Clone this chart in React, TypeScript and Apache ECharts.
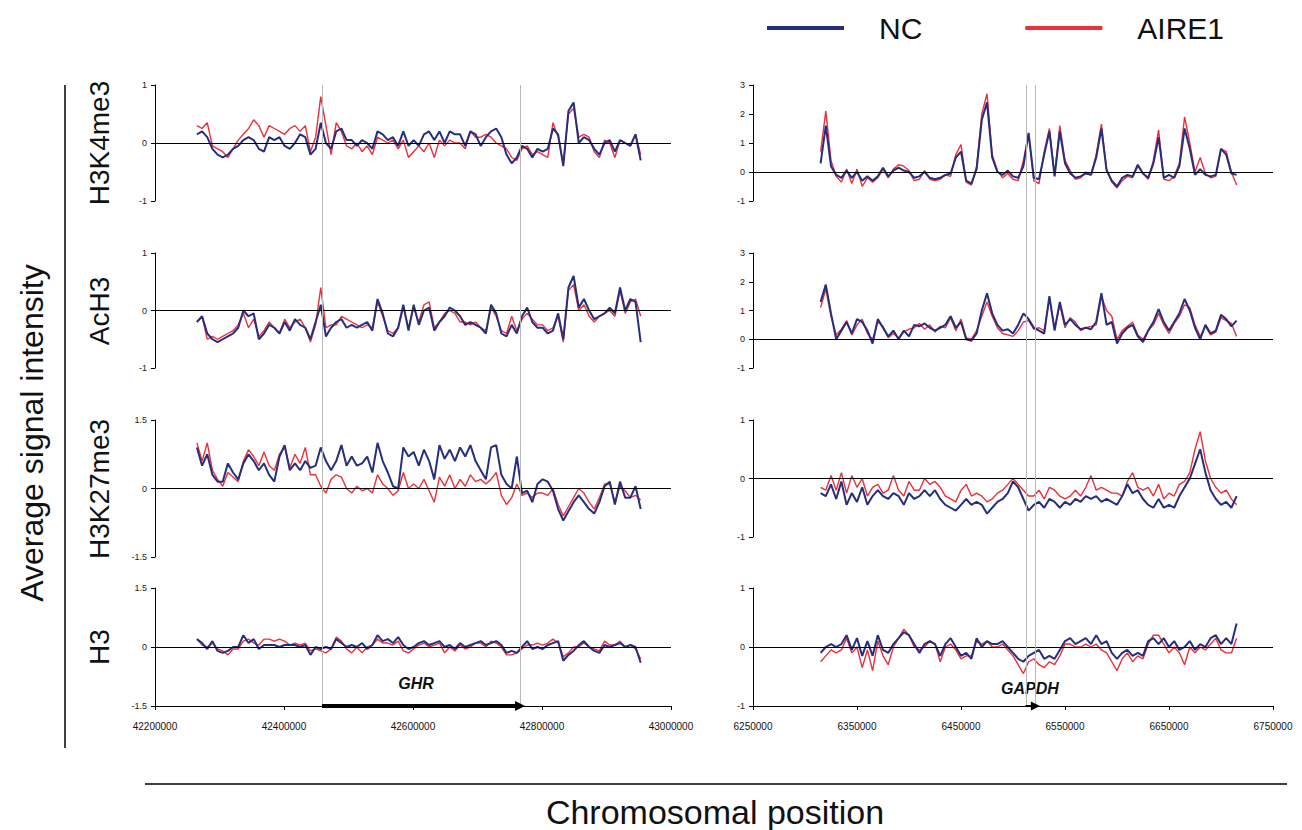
import React, { useEffect, useRef } from "react";
import * as echarts from "echarts";

// ---------- probe positions ----------
const GHR_POS_START = 42265000;
const GHR_POS_STEP = 8000;
const GHR_POS_COUNT = 87;
const GAPDH_POS_START = 6315000;
const GAPDH_POS_STEP = 5000;
const GAPDH_POS_COUNT = 81;

// ---------- axis ranges / ticks ----------
const GHR_X = { min: 42200000, max: 43000000, interval: 200000 };
const GAPDH_X = { min: 6250000, max: 6750000, interval: 100000 };
const ROW_NAMES = ["H3K4me3", "AcH3", "H3K27me3", "H3"];
const GHR_Y = [
  { min: -1, max: 1, interval: 1 },
  { min: -1, max: 1, interval: 1 },
  { min: -1.5, max: 1.5, interval: 1.5 },
  { min: -1.5, max: 1.5, interval: 1.5 },
];
const GAPDH_Y = [
  { min: -1, max: 3, interval: 1 },
  { min: -1, max: 3, interval: 1 },
  { min: -1, max: 1, interval: 1 },
  { min: -1, max: 1, interval: 1 },
];

// ---------- gene marks ----------
const GHR_BOUNDS = [42459000, 42766000];
const GAPDH_BOUNDS = [6512500, 6521000];
const GAPDH_ARROW = [6512000, 6521500];

// ---------- GHR locus values ----------
const GHR_H3K4ME3_NC = [0.15,0.2,0.1,-0.1,-0.2,-0.25,-0.2,-0.1,-0.05,0.05,0.1,0.05,-0.1,-0.15,0.1,0.05,0.1,-0.05,-0.1,0.0,0.15,0.1,-0.2,-0.1,0.35,0.0,-0.1,0.2,0.25,0.05,0.05,-0.05,0.05,0.0,-0.1,0.2,0.15,0.05,0.1,-0.05,0.2,-0.05,0.05,-0.05,0.15,0.2,0.05,0.2,0.0,0.2,0.15,0.15,-0.05,0.2,0.15,-0.05,0.1,0.2,0.25,0.1,-0.2,-0.35,-0.25,-0.05,-0.1,-0.25,-0.1,-0.15,-0.1,0.25,0.15,-0.4,0.55,0.7,0.0,0.1,0.05,-0.1,-0.2,0.0,0.05,-0.15,0.05,0.0,-0.05,0.15,-0.3];
const GHR_H3K4ME3_AIRE1 = [0.3,0.25,0.35,-0.05,-0.1,-0.15,-0.25,-0.1,0.05,0.15,0.25,0.4,0.3,0.1,0.3,0.25,0.2,0.15,0.25,0.3,0.2,0.3,-0.15,0.1,0.8,0.3,-0.2,0.35,0.2,-0.05,-0.1,0.0,-0.15,-0.05,-0.2,0.1,0.05,0.0,0.05,-0.1,0.05,-0.25,-0.15,-0.05,-0.15,0.0,-0.25,0.05,-0.05,0.05,0.0,0.0,-0.1,0.2,0.1,0.1,0.15,0.1,0.0,-0.05,-0.1,-0.25,-0.3,-0.1,-0.05,-0.2,-0.15,-0.2,-0.25,0.35,0.1,-0.35,0.5,0.6,0.1,0.15,0.1,-0.15,-0.25,0.05,0.0,-0.25,0.05,0.0,-0.05,0.15,-0.2];
const GHR_ACH3_NC = [-0.2,-0.1,-0.4,-0.5,-0.55,-0.5,-0.45,-0.4,-0.3,0.0,-0.1,-0.05,-0.5,-0.4,-0.25,-0.3,-0.4,-0.2,-0.35,-0.15,-0.25,-0.3,-0.5,-0.2,0.1,-0.45,-0.3,-0.2,-0.15,-0.3,-0.25,-0.3,-0.25,-0.2,-0.35,0.2,-0.05,-0.4,-0.45,-0.3,0.1,-0.35,0.1,-0.25,0.0,0.05,-0.35,-0.2,-0.1,0.05,0.0,-0.1,-0.25,-0.2,-0.25,-0.3,-0.4,0.1,-0.05,-0.4,-0.45,-0.25,-0.4,-0.1,0.05,-0.2,-0.3,-0.3,-0.4,-0.35,-0.05,-0.5,0.4,0.6,0.05,0.2,0.0,-0.15,-0.1,-0.05,0.05,-0.05,0.4,0.0,0.2,0.15,-0.55];
const GHR_ACH3_AIRE1 = [-0.2,-0.1,-0.5,-0.45,-0.5,-0.45,-0.4,-0.35,-0.25,-0.05,-0.3,-0.15,-0.45,-0.35,-0.2,-0.3,-0.4,-0.15,-0.3,-0.2,-0.15,-0.3,-0.55,-0.25,0.4,-0.3,-0.25,-0.25,-0.1,-0.15,-0.2,-0.25,-0.3,-0.25,-0.3,0.15,-0.1,-0.35,-0.4,-0.3,0.05,-0.3,0.05,-0.2,0.1,0.15,-0.3,-0.2,-0.05,0.0,-0.05,-0.2,-0.2,-0.25,-0.2,-0.3,-0.35,0.05,-0.1,-0.35,-0.4,-0.1,-0.35,-0.15,-0.05,-0.15,-0.25,-0.25,-0.35,-0.3,-0.1,-0.55,0.35,0.45,0.0,0.1,-0.1,-0.2,-0.1,-0.05,0.0,-0.1,0.35,-0.05,0.15,0.2,-0.1];
const GHR_H3K27ME3_NC = [0.9,0.5,0.75,0.3,0.15,0.15,0.55,0.35,0.2,0.55,0.75,0.6,0.4,0.55,0.3,0.15,0.7,0.95,0.4,0.55,0.4,0.6,0.45,0.5,0.9,0.6,0.4,0.6,0.95,0.5,0.7,0.5,0.55,0.7,0.35,1.0,0.6,0.35,0.05,0.0,0.9,0.7,0.8,0.5,0.85,0.6,0.2,0.95,0.65,0.85,0.6,0.9,0.7,0.95,0.6,0.4,0.2,0.9,0.95,0.3,0.1,0.0,0.7,-0.1,-0.05,-0.3,0.1,0.2,0.15,-0.05,-0.45,-0.7,-0.5,-0.3,-0.15,-0.3,-0.45,-0.55,-0.3,0.05,0.15,-0.35,0.15,-0.2,-0.2,0.05,-0.45];
const GHR_H3K27ME3_AIRE1 = [1.0,0.6,1.0,0.4,0.2,0.05,0.35,0.25,0.15,0.6,0.85,0.7,0.5,0.8,0.5,0.4,0.75,0.9,0.45,0.75,0.55,0.9,0.3,0.3,0.05,-0.1,0.2,0.3,0.25,0.0,-0.1,0.05,-0.05,0.0,-0.1,0.3,0.1,0.0,-0.15,-0.05,0.35,0.0,0.1,0.0,0.2,-0.05,-0.3,0.25,0.05,0.3,0.0,0.2,0.05,0.3,0.15,0.2,0.1,0.2,0.35,-0.15,-0.35,-0.2,0.1,-0.15,-0.1,-0.2,-0.1,-0.1,-0.15,0.0,-0.35,-0.6,-0.4,-0.2,0.0,-0.1,-0.3,-0.45,-0.2,0.1,0.1,-0.3,0.05,-0.05,-0.2,-0.15,-0.25];
const GHR_H3_NC = [0.2,0.1,-0.05,0.15,-0.1,-0.15,-0.1,0.0,0.0,0.3,0.1,0.2,-0.05,0.05,0.05,0.05,0.0,0.05,0.05,0.05,0.0,0.05,-0.2,0.0,-0.05,0.0,-0.05,0.2,0.1,0.0,0.05,0.0,0.1,-0.05,0.05,0.3,0.15,0.2,0.1,0.25,0.05,-0.05,0.0,0.1,0.15,0.05,0.1,0.15,0.0,0.05,-0.05,0.1,0.0,0.05,0.1,0.15,0.05,0.1,0.15,0.05,-0.15,-0.1,-0.15,0.0,0.15,-0.05,0.0,-0.05,0.05,0.1,0.15,-0.35,-0.2,-0.1,0.05,0.15,0.0,-0.1,-0.15,0.05,0.0,0.05,0.1,0.0,0.05,0.0,-0.4];
const GHR_H3_AIRE1 = [0.2,0.05,0.0,0.1,-0.05,-0.1,-0.2,-0.05,-0.05,0.15,0.2,0.1,0.05,0.2,0.2,0.15,0.2,0.15,0.05,0.1,0.05,0.1,-0.1,-0.05,-0.1,-0.15,-0.05,0.25,0.15,-0.05,-0.15,0.0,-0.15,0.0,0.05,0.2,0.1,0.1,0.05,0.15,-0.1,-0.15,-0.05,0.05,0.1,0.0,0.05,0.1,-0.15,0.0,-0.1,0.05,-0.05,0.0,0.1,0.1,0.0,0.15,0.1,0.0,-0.2,-0.2,-0.15,-0.05,0.05,0.05,0.1,0.05,0.1,0.2,0.1,-0.25,-0.15,0.0,0.0,0.1,0.0,-0.05,-0.1,0.15,0.05,0.05,0.15,0.0,0.05,-0.05,-0.3];

// ---------- GAPDH locus values ----------
const GAPDH_H3K4ME3_NC = [0.3,1.6,0.2,-0.1,-0.2,0.05,-0.2,0.0,-0.3,-0.15,-0.3,-0.15,0.15,-0.15,0.05,0.15,0.05,0.0,-0.2,-0.15,0.0,-0.2,-0.25,-0.2,-0.1,-0.05,0.5,0.7,-0.3,-0.4,0.1,1.8,2.4,0.5,0.0,-0.1,0.05,-0.15,-0.2,0.2,1.35,-0.2,-0.25,0.6,1.4,-0.15,1.4,0.3,-0.05,-0.2,-0.15,-0.05,-0.1,0.5,1.5,0.05,-0.3,-0.5,-0.2,-0.1,-0.15,0.25,-0.05,-0.2,0.3,1.2,-0.2,-0.1,-0.2,0.2,1.5,0.8,-0.1,0.1,-0.1,-0.15,-0.1,0.8,0.6,-0.05,-0.1];
const GAPDH_H3K4ME3_AIRE1 = [0.7,2.1,0.4,-0.15,-0.35,0.1,-0.4,0.1,-0.5,-0.2,-0.35,-0.2,0.1,-0.2,0.1,0.25,0.2,0.05,-0.3,-0.25,0.05,-0.25,-0.3,-0.25,-0.1,-0.15,0.6,0.95,-0.35,-0.45,0.2,2.0,2.7,0.6,0.05,-0.2,-0.05,-0.25,-0.3,0.4,1.3,-0.3,-0.4,0.7,1.5,-0.1,1.6,0.4,0.05,-0.25,-0.2,0.0,-0.1,0.6,1.65,0.1,-0.35,-0.55,-0.3,-0.15,-0.2,0.2,-0.05,-0.25,0.4,1.45,-0.25,-0.3,-0.15,0.3,1.9,1.0,0.0,0.5,-0.05,-0.2,-0.15,0.8,0.7,0.0,-0.45];
const GAPDH_ACH3_NC = [1.3,1.9,0.9,0.0,0.3,0.6,0.2,0.7,0.6,0.3,-0.15,0.7,0.4,0.1,0.3,0.0,0.3,0.1,0.5,0.45,0.55,0.4,0.3,0.4,0.5,0.8,0.4,0.6,0.0,-0.05,0.2,1.0,1.6,0.9,0.5,0.3,0.35,0.2,0.5,0.9,0.7,0.4,0.3,0.2,1.5,0.3,1.3,0.5,0.7,0.5,0.35,0.4,0.35,0.6,1.6,0.5,0.6,-0.15,0.2,0.4,0.5,0.1,-0.1,0.3,0.6,1.05,0.6,0.3,0.6,0.9,1.4,1.0,0.4,0.0,0.5,0.2,0.3,0.85,0.7,0.45,0.65];
const GAPDH_ACH3_AIRE1 = [1.1,1.75,0.8,0.15,0.35,0.65,0.15,0.5,0.7,0.2,0.0,0.6,0.45,0.05,0.2,0.05,0.25,0.35,0.4,0.55,0.35,0.5,0.25,0.45,0.4,0.75,0.3,0.7,0.05,0.0,0.3,0.8,1.3,0.8,0.4,0.2,0.15,0.1,0.3,0.6,0.65,0.35,0.4,0.3,1.4,0.4,1.2,0.4,0.75,0.6,0.3,0.4,0.45,0.5,1.5,1.0,0.8,0.0,0.3,0.45,0.6,0.15,0.0,0.3,0.5,0.9,0.5,0.2,0.55,0.8,1.2,1.1,0.5,0.1,0.45,0.15,0.25,0.75,0.65,0.55,0.1];
const GAPDH_H3K27ME3_NC = [-0.25,-0.3,-0.1,-0.35,-0.05,-0.45,-0.25,-0.4,-0.15,-0.45,-0.3,-0.2,-0.3,-0.35,-0.25,-0.3,-0.45,-0.25,-0.35,-0.3,-0.2,-0.3,-0.2,-0.35,-0.45,-0.5,-0.55,-0.45,-0.35,-0.45,-0.4,-0.45,-0.6,-0.5,-0.4,-0.35,-0.25,-0.05,-0.15,-0.35,-0.55,-0.45,-0.4,-0.5,-0.35,-0.4,-0.5,-0.4,-0.45,-0.35,-0.4,-0.3,-0.35,-0.3,-0.4,-0.35,-0.4,-0.45,-0.3,-0.1,-0.25,-0.2,-0.35,-0.45,-0.5,-0.35,-0.5,-0.45,-0.5,-0.3,-0.15,0.0,0.25,0.5,0.1,-0.2,-0.35,-0.45,-0.4,-0.5,-0.3];
const GAPDH_H3K27ME3_AIRE1 = [-0.15,-0.2,0.05,-0.2,0.1,-0.25,0.05,-0.15,0.0,-0.3,-0.15,-0.1,-0.25,-0.2,0.05,-0.2,-0.3,-0.05,-0.2,-0.2,0.0,-0.1,-0.05,-0.15,-0.3,-0.35,-0.4,-0.2,-0.1,-0.3,-0.25,-0.3,-0.4,-0.35,-0.25,-0.2,-0.1,0.0,-0.1,-0.2,-0.3,-0.3,-0.2,-0.35,-0.15,-0.2,-0.3,-0.35,-0.3,-0.2,-0.3,-0.15,0.05,-0.2,-0.15,-0.2,-0.25,-0.25,-0.3,-0.05,0.1,-0.15,-0.2,-0.15,-0.3,-0.1,-0.35,-0.25,-0.3,-0.1,-0.05,0.1,0.5,0.8,0.3,0.0,-0.15,-0.25,-0.2,-0.35,-0.45];
const GAPDH_H3_NC = [-0.1,0.0,0.05,0.0,0.05,0.2,-0.05,0.15,-0.15,0.1,-0.15,0.2,-0.05,-0.1,0.05,0.15,0.25,0.2,0.05,-0.1,0.05,0.1,0.05,-0.15,0.05,0.15,0.0,-0.15,-0.1,-0.2,0.15,0.0,0.1,0.05,0.05,0.1,0.0,-0.1,-0.2,-0.25,-0.15,-0.1,-0.05,-0.2,-0.15,-0.2,-0.05,0.1,0.15,0.05,0.1,0.15,0.05,0.2,0.05,0.1,-0.1,-0.2,-0.1,-0.05,-0.15,-0.1,-0.15,0.1,0.15,0.05,0.15,0.0,0.1,-0.05,0.0,0.1,-0.05,0.05,0.0,0.15,0.2,0.05,0.15,0.05,0.4];
const GAPDH_H3_AIRE1 = [-0.25,-0.15,-0.05,-0.1,-0.05,0.15,-0.1,0.0,-0.35,-0.05,-0.4,0.1,-0.15,-0.3,0.0,0.15,0.3,0.2,0.0,-0.05,0.0,0.1,0.05,-0.25,0.0,0.05,-0.05,-0.2,-0.15,-0.15,0.1,0.05,0.1,0.0,0.0,0.05,-0.05,-0.15,-0.3,-0.45,-0.25,-0.2,-0.3,-0.35,-0.25,-0.3,-0.15,0.05,0.05,0.0,0.0,0.05,0.0,0.05,-0.05,-0.1,-0.25,-0.4,-0.2,-0.1,-0.25,-0.15,-0.2,0.05,0.2,0.2,0.05,-0.1,0.0,-0.1,-0.3,0.0,-0.1,0.0,-0.05,0.05,0.15,-0.05,-0.1,-0.1,0.15];

const GHR_NC = [GHR_H3K4ME3_NC, GHR_ACH3_NC, GHR_H3K27ME3_NC, GHR_H3_NC];
const GHR_AIRE1 = [GHR_H3K4ME3_AIRE1, GHR_ACH3_AIRE1, GHR_H3K27ME3_AIRE1, GHR_H3_AIRE1];
const GAPDH_NC = [GAPDH_H3K4ME3_NC, GAPDH_ACH3_NC, GAPDH_H3K27ME3_NC, GAPDH_H3_NC];
const GAPDH_AIRE1 = [GAPDH_H3K4ME3_AIRE1, GAPDH_ACH3_AIRE1, GAPDH_H3K27ME3_AIRE1, GAPDH_H3_AIRE1];

// ---------- styling ----------
const FONT = "'Liberation Sans', Arial, Helvetica, sans-serif";
const NC_COLOR = "#262e7e";
const AIRE1_COLOR = "#ec2f38";
const GREY_LINE = "#b8b8b8";

const LEFT_COL = { left: 155, width: 516 };
const RIGHT_COL = { left: 753, width: 520 };
const LEFT_ROWS = [
  { top: 85, height: 116 },
  { top: 253, height: 115 },
  { top: 420, height: 137 },
  { top: 588, height: 118 },
];
const RIGHT_ROWS = [
  { top: 85, height: 116 },
  { top: 253, height: 115 },
  { top: 420, height: 117 },
  { top: 588, height: 118 },
];
const ROW_ZERO_Y = [143, 311, 489, 647];

function buildOption() {
  const ghrPos = Array.from({ length: GHR_POS_COUNT }, (_, i) => GHR_POS_START + i * GHR_POS_STEP);
  const gapdhPos = Array.from({ length: GAPDH_POS_COUNT }, (_, i) => GAPDH_POS_START + i * GAPDH_POS_STEP);

  const grid: any[] = [];
  const xAxis: any[] = [];
  const yAxis: any[] = [];
  const series: any[] = [];

  const addPanel = (col: any, row: any, xr: any, yr: any, isBottom: boolean, pos: number[], nc: number[], aire: number[]) => {
    const idx = grid.length;
    grid.push({ left: col.left, width: col.width, top: row.top, height: row.height, containLabel: false });
    xAxis.push({
      type: "value",
      gridIndex: idx,
      min: xr.min,
      max: xr.max,
      interval: xr.interval,
      show: isBottom,
      axisLine: { show: isBottom, onZero: false, lineStyle: { color: "#000", width: 1 } },
      axisTick: { show: isBottom, inside: false, length: 4, lineStyle: { color: "#000" } },
      axisLabel: {
        show: isBottom,
        fontSize: 10,
        color: "#111",
        fontFamily: FONT,
        margin: 15,
        formatter: (v: number) => String(v),
      },
      splitLine: { show: false },
    });
    yAxis.push({
      type: "value",
      gridIndex: idx,
      min: yr.min,
      max: yr.max,
      interval: yr.interval,
      axisLine: { show: true, onZero: false, lineStyle: { color: "#000", width: 1 } },
      axisTick: { show: true, inside: false, length: 4, lineStyle: { color: "#000" } },
      axisLabel: { fontSize: 9, color: "#222", fontFamily: FONT, margin: 8 },
      splitLine: { show: false },
    });
    series.push({
      name: "AIRE1",
      type: "line",
      xAxisIndex: idx,
      yAxisIndex: idx,
      data: pos.map((x, i) => [x, aire[i]]),
      symbol: "none",
      showSymbol: false,
      color: AIRE1_COLOR,
      lineStyle: { color: AIRE1_COLOR, width: 1.4 },
      z: 3,
      silent: true,
      markLine: {
        silent: true,
        symbol: ["none", "none"],
        label: { show: false },
        lineStyle: { color: "#000", width: 1, type: "solid" },
        data: [{ yAxis: 0 }],
      },
    });
    series.push({
      name: "NC",
      type: "line",
      xAxisIndex: idx,
      yAxisIndex: idx,
      data: pos.map((x, i) => [x, nc[i]]),
      symbol: "none",
      showSymbol: false,
      color: NC_COLOR,
      lineStyle: { color: NC_COLOR, width: 2 },
      z: 4,
      silent: true,
    });
  };

  for (let r = 0; r < 4; r++) {
    addPanel(LEFT_COL, LEFT_ROWS[r], GHR_X, GHR_Y[r], r === 3, ghrPos, GHR_NC[r], GHR_AIRE1[r]);
  }
  for (let r = 0; r < 4; r++) {
    addPanel(RIGHT_COL, RIGHT_ROWS[r], GAPDH_X, GAPDH_Y[r], r === 3, gapdhPos, GAPDH_NC[r], GAPDH_AIRE1[r]);
  }

  // overlay grids for gene boundary lines and arrows
  const addOverlay = (col: any, xr: any, bounds: number[], arrow: number[], arrowWidth: number, headSize: number) => {
    const idx = grid.length;
    grid.push({ left: col.left, width: col.width, top: 85, height: 621, containLabel: false });
    xAxis.push({ type: "value", gridIndex: idx, min: xr.min, max: xr.max, show: false });
    yAxis.push({ type: "value", gridIndex: idx, min: 0, max: 1, show: false });
    series.push({
      type: "line",
      xAxisIndex: idx,
      yAxisIndex: idx,
      data: [],
      z: 1,
      silent: true,
      markLine: {
        silent: true,
        symbol: ["none", "none"],
        label: { show: false },
        lineStyle: { color: GREY_LINE, width: 1, type: "solid" },
        data: bounds.map((b) => ({ xAxis: b })),
      },
    });
    series.push({
      type: "line",
      xAxisIndex: idx,
      yAxisIndex: idx,
      data: [],
      z: 6,
      silent: true,
      markLine: {
        silent: true,
        symbol: ["none", "triangle"],
        symbolSize: [headSize, headSize],
        label: { show: false },
        lineStyle: { color: "#000", width: arrowWidth, type: "solid" },
        data: [[{ coord: [arrow[0], 0] }, { coord: [arrow[1], 0] }]],
      },
    });
  };
  addOverlay(LEFT_COL, GHR_X, GHR_BOUNDS, GHR_BOUNDS, 4, 10);
  addOverlay(RIGHT_COL, GAPDH_X, GAPDH_BOUNDS, GAPDH_ARROW, 2, 9);

  const textStyle = (text: string, fontSize: number, extra: any = {}) => ({
    text,
    fontSize,
    fontFamily: FONT,
    fill: "#111",
    textAlign: "center",
    textVerticalAlign: "middle",
    align: "center",
    verticalAlign: "middle",
    ...extra,
  });

  const graphic: any[] = [];
  ROW_NAMES.forEach((name, r) => {
    graphic.push({ type: "text", x: 99, y: ROW_ZERO_Y[r], rotation: Math.PI / 2, style: textStyle(name, 28) });
  });
  graphic.push({ type: "text", x: 32, y: 433, rotation: Math.PI / 2, style: textStyle("Average signal intensity", 32) });
  graphic.push({ type: "text", x: 715, y: 812, style: textStyle("Chromosomal position", 34) });
  graphic.push({ type: "text", x: 416, y: 683, style: textStyle("GHR", 16, { fontWeight: "bold", fontStyle: "italic" }) });
  graphic.push({ type: "text", x: 1030, y: 688, style: textStyle("GAPDH", 16, { fontWeight: "bold", fontStyle: "italic" }) });
  graphic.push({
    type: "line",
    shape: { x1: 65, y1: 85, x2: 65, y2: 748 },
    style: { stroke: "#000", lineWidth: 1.5 },
  });
  graphic.push({
    type: "line",
    shape: { x1: 145, y1: 784, x2: 1287, y2: 784 },
    style: { stroke: "#000", lineWidth: 1.5 },
  });

  return {
    animation: false,
    backgroundColor: "#fff",
    textStyle: { fontFamily: FONT },
    legend: {
      data: ["NC", "AIRE1"],
      left: 762,
      top: 8,
      icon: "rect",
      itemWidth: 77,
      itemHeight: 4,
      itemGap: 103,
      selectedMode: false,
      formatter: "{t|{name}}",
      textStyle: {
        fontSize: 30,
        color: "#111",
        fontFamily: FONT,
        rich: { t: { fontSize: 30, color: "#111", fontFamily: FONT, padding: [0, 0, 0, 30] } },
      },
    },
    grid,
    xAxis,
    yAxis,
    series,
    graphic,
  };
}

export default function App() {
  const ref = useRef<HTMLDivElement>(null);
  useEffect(() => {
    if (!ref.current) return;
    const chart = echarts.init(ref.current, undefined, { renderer: "svg" });
    chart.setOption(buildOption() as any);
    return () => chart.dispose();
  }, []);
  return (
    <div
      ref={ref}
      style={{ position: "fixed", left: 0, top: 0, width: 1302, height: 830, background: "#fff" }}
    />
  );
}
